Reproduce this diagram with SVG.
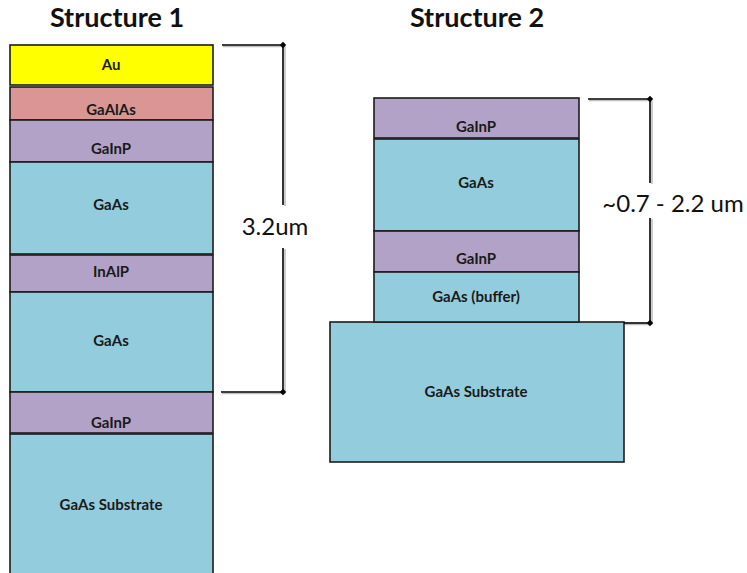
<svg xmlns="http://www.w3.org/2000/svg" width="747" height="573" viewBox="0 0 747 573">
<defs>
<style>
.lay{stroke:#1c1c1c;stroke-width:1.6}
.au{fill:#FFFF00}.gaalas{fill:#D99694}.gainp{fill:#B3A2C7}.gaas{fill:#93CDDD}
.lbl{font-family:Lato,"Open Sans","Liberation Sans",sans-serif;font-weight:bold;font-size:15px;fill:#1a1a1a;text-anchor:middle}
.title{font-family:Lato,"Open Sans","Liberation Sans",sans-serif;font-weight:bold;font-size:27px;fill:#111;text-anchor:middle}
.dimtxt{font-family:Lato,"Open Sans","Liberation Sans",sans-serif;font-size:24px;fill:#111;text-anchor:middle}
.dim{fill:none;stroke:#000;stroke-width:1.6}
.shadow{fill:none;stroke:#000;stroke-opacity:0.25;stroke-width:1.6}
</style>
<marker id="dot" viewBox="-5 -5 10 10" markerWidth="8" markerHeight="8" markerUnits="userSpaceOnUse" refX="0" refY="0" orient="0">
<path d="M0,-4 L4,0 L0,4 L-4,0 Z" fill="#000"/>
</marker>
</defs>
<rect width="747" height="573" fill="#fff"/>

<text class="title" x="117" y="27">Structure 1</text>
<text class="title" x="477" y="27">Structure 2</text>

<g id="s1-au"><rect class="lay au" x="10" y="45" width="203" height="40"/><text class="lbl" x="111" y="70">Au</text></g>
<g id="s1-gaalas"><rect class="lay gaalas" x="10" y="87" width="203" height="33"/><text class="lbl" x="111" y="115">GaAlAs</text></g>
<g id="s1-gainp1"><rect class="lay gainp" x="10" y="120" width="203" height="42"/><text class="lbl" x="111" y="154">GaInP</text></g>
<g id="s1-gaas1"><rect class="lay gaas" x="10" y="162" width="203" height="92"/><text class="lbl" x="111" y="210">GaAs</text></g>
<g id="s1-inalp"><rect class="lay gainp" x="10" y="255" width="203" height="37"/><text class="lbl" x="111" y="277">InAlP</text></g>
<g id="s1-gaas2"><rect class="lay gaas" x="10" y="292" width="203" height="100"/><text class="lbl" x="111" y="346">GaAs</text></g>
<g id="s1-gainp2"><rect class="lay gainp" x="10" y="392" width="203" height="41"/><text class="lbl" x="111" y="428">GaInP</text></g>
<g id="s1-substrate"><rect class="lay gaas" x="10" y="434" width="203" height="145"/><text class="lbl" x="111" y="510">GaAs Substrate</text></g>

<g id="s2-substrate"><rect class="lay gaas" x="330" y="322" width="294" height="140"/><text class="lbl" x="476" y="397">GaAs Substrate</text></g>
<g id="s2-gainp1"><rect class="lay gainp" x="374" y="98" width="205" height="40"/><text class="lbl" x="476" y="132">GaInP</text></g>
<g id="s2-gaas"><rect class="lay gaas" x="374" y="139" width="205" height="92"/><text class="lbl" x="476" y="188">GaAs</text></g>
<g id="s2-gainp2"><rect class="lay gainp" x="374" y="231" width="205" height="41"/><text class="lbl" x="476" y="264">GaInP</text></g>
<g id="s2-buffer"><rect class="lay gaas" x="374" y="272" width="205" height="50"/><text class="lbl" x="476" y="302">GaAs (buffer)</text></g>

<g id="connectors">
<path class="shadow" d="M223,46.5 H285 M285,46.5 V206 M285,249 V393.5 M222,393.5 H285"/>
<path class="shadow" d="M589,100.5 H652 M652,100.5 V184 M652,219 V324.5 M625,324.5 H652"/>
<path class="dim" d="M222,45 H283" marker-end="url(#dot)"/>
<path class="dim" d="M283,45 V205"/>
<path class="dim" d="M283,248 V392"/>
<path class="dim" d="M221,392 H283" marker-end="url(#dot)"/>
<path class="dim" d="M588,99 H650" marker-end="url(#dot)"/>
<path class="dim" d="M650,99 V183"/>
<path class="dim" d="M650,218 V323"/>
<path class="dim" d="M624,323 H650" marker-end="url(#dot)"/>
</g>
<g id="dim-labels">
<text class="dimtxt" x="275" y="235">3.2um</text>
<text class="dimtxt" x="673" y="212">~0.7 - 2.2 um</text>
</g>
</svg>
